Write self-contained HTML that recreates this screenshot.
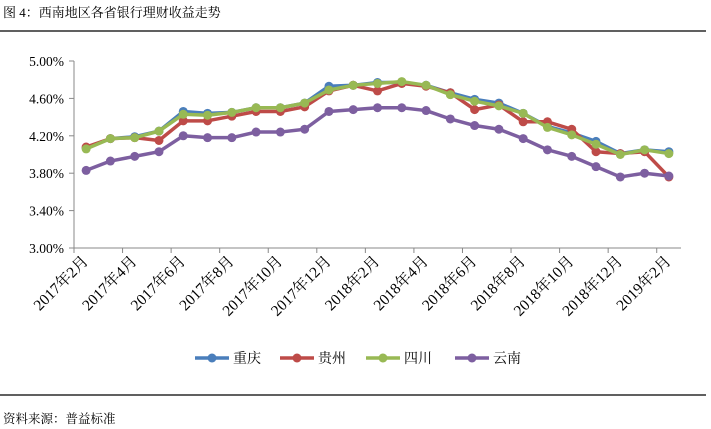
<!DOCTYPE html>
<html><head><meta charset="utf-8">
<style>
body{margin:0;background:#fff;width:711px;height:429px;overflow:hidden;font-family:"Liberation Serif","Noto Serif CJK SC",serif;}
svg{display:block}
</style></head>
<body>
<svg id="chart" width="711" height="429">
<text x="3" y="17" font-size="13" font-family="Liberation Serif, Noto Serif CJK SC, serif">图 4：西南地区各省银行理财收益走势</text>
<line x1="0" y1="31" x2="706" y2="31" stroke="#000" stroke-width="1.3"/>
<line x1="0" y1="395" x2="706" y2="395" stroke="#000" stroke-width="1.3"/>
<text x="3" y="423" font-size="12.5">资料来源：普益标准</text>
<g id="plot"></g>
<g id="legend"></g>
</svg>
<script>
const categories=["2017年2月","2017年3月","2017年4月","2017年5月","2017年6月","2017年7月","2017年8月","2017年9月","2017年10月","2017年11月","2017年12月","2018年1月","2018年2月","2018年3月","2018年4月","2018年5月","2018年6月","2018年7月","2018年8月","2018年9月","2018年10月","2018年11月","2018年12月","2019年1月","2019年2月"];
const chongqing=[4.07,4.17,4.19,4.25,4.46,4.44,4.45,4.50,4.50,4.55,4.73,4.74,4.77,4.77,4.74,4.66,4.59,4.55,4.44,4.30,4.23,4.14,4.01,4.05,4.03];
const guizhou=[4.08,4.17,4.18,4.15,4.36,4.36,4.41,4.46,4.46,4.51,4.68,4.74,4.68,4.76,4.73,4.66,4.48,4.53,4.35,4.35,4.27,4.03,4.01,4.03,3.76];
const sichuan=[4.06,4.17,4.18,4.25,4.43,4.42,4.45,4.50,4.50,4.55,4.69,4.74,4.76,4.78,4.74,4.64,4.57,4.52,4.44,4.29,4.21,4.11,4.00,4.05,4.01];
const yunnan=[3.83,3.93,3.98,4.03,4.20,4.18,4.18,4.24,4.24,4.27,4.46,4.48,4.50,4.50,4.47,4.38,4.31,4.27,4.17,4.05,3.98,3.87,3.76,3.80,3.77];
const yTicks=[3.00,3.40,3.80,4.20,4.60,5.00];
const seriesNames=["重庆","贵州","四川","云南"];
const seriesColors=["#4a7ebb","#be4b48","#98b954","#7d5fa0"];
const seriesData=[chongqing,guizhou,sichuan,yunnan];

const NS="http://www.w3.org/2000/svg";
const X0=74,X1=681,Y0=248,Y1=61,YMIN=3,YMAX=5;
const step=(X1-X0)/categories.length;
const xs=i=>X0+step*(i+0.5);
const ys=v=>Y0-(v-YMIN)/(YMAX-YMIN)*(Y0-Y1);
const plot=document.getElementById('plot');
function mk(tag,attrs,parent){const e=document.createElementNS(NS,tag);for(const k in attrs)e.setAttribute(k,attrs[k]);parent.appendChild(e);return e;}

const yAxis=mk('line',{x1:X0,y1:Y1,x2:X0,y2:Y0,stroke:'#888'},plot);


const xAxis=mk('line',{x1:X0,y1:Y0,x2:X1,y2:Y0,stroke:'#888'},plot);


yTicks.forEach(v=>{
  const y=ys(v);
  mk('line',{x1:X0-5,y1:y,x2:X0,y2:y,stroke:'#888'},plot);
  const t=mk('text',{x:X0-10,y:y+5,'text-anchor':'end','font-size':'13.5'},plot);
  t.textContent=v.toFixed(2)+'%';
  
  
});
for(let i=0;i<=categories.length;i+=2){
  const x=X0+step*i;
  mk('line',{x1:x,y1:Y0,x2:x,y2:Y0+5,stroke:'#888'},plot);
}
categories.forEach((c,i)=>{
  if(i%2)return;
  const x=xs(i)+3,y=Y0+14;
  const t=mk('text',{x:x,y:y,'text-anchor':'end','font-size':'15.5',transform:`rotate(-45 ${x} ${y})`},plot);
  t.textContent=c;
  
  
});
seriesData.forEach((d,s)=>{
  const g=mk('g',{},plot);
  
  
  const pts=d.map((v,i)=>xs(i)+','+ys(v)).join(' ');
  const pl=mk('polyline',{points:pts,fill:'none',stroke:seriesColors[s],'stroke-width':3.5,'stroke-linejoin':'round'},g);
  
  
  d.forEach((v,i)=>{
    const c=mk('circle',{cx:xs(i),cy:ys(v),r:4.5,fill:seriesColors[s]},g);
    
    
  });
});
const lg=document.getElementById('legend');
const lx=[195,280,366,455];
seriesNames.forEach((n,s)=>{
  const g=mk('g',{},lg);
  
  
  mk('line',{x1:lx[s],y1:358,x2:lx[s]+34,y2:358,stroke:seriesColors[s],'stroke-width':3.5},g);
  mk('circle',{cx:lx[s]+17,cy:358,r:4.5,fill:seriesColors[s]},g);
  const t=mk('text',{x:lx[s]+38,y:363,'font-size':'14'},g);
  t.textContent=n;
});
</script>
</body></html>
